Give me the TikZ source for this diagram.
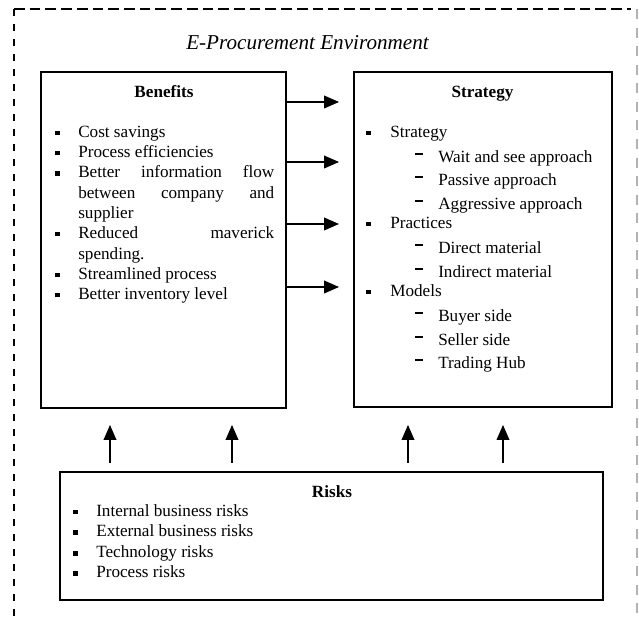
\documentclass[tikz,border=0pt]{standalone}
\usepackage{fontspec}
\setmainfont{Liberation Serif}
\usetikzlibrary{arrows.meta}
\newcommand{\bsq}{\raisebox{1.6pt}{\rule{3pt}{3pt}}}
\newcommand{\bdash}{\raisebox{5.2pt}{\rule{5.6pt}{1.5pt}}}
\newcommand{\bitem}[1]{\makebox[16.1pt][l]{\bsq}#1}
\newcommand{\sitem}[1]{\makebox[16.8pt][l]{\bsq}#1}
\newcommand{\ditem}[1]{\makebox[16.1pt][l]{\bdash}#1}
\begin{document}
\begin{tikzpicture}[x=0.7pt,y=-0.7pt,
  box/.style={draw, line width=1.1pt, inner sep=0pt},
  txt/.style={anchor=mid west, inner sep=0pt, yshift=-2.1pt, font=\fontsize{12}{14}\selectfont},
  ttl/.style={anchor=mid, inner sep=0pt, yshift=-2.1pt, font=\fontsize{12}{14}\selectfont\bfseries},
  arr/.style={-{Triangle[length=10.5pt,width=9pt]}, line width=0.8pt}]
\useasboundingbox (0,0) rectangle (639,621);
% environment border
\draw[line width=1.4pt, dash pattern=on 7.5pt off 3.5pt] (14,9) -- (631,9);
\draw[line width=1.5pt, dash pattern=on 5pt off 5.5pt] (14,9) -- (14,621);
\draw[gray!60, line width=0.8pt, dash pattern=on 7pt off 6pt] (637,9) -- (637,621);
\node[anchor=mid, inner sep=0pt, yshift=-2.5pt, font=\fontsize{14.8}{17}\selectfont\itshape] (env) at (307.5,43) {E-Procurement Environment};
% boxes
\node[box, minimum width=171.5pt, minimum height=235.2pt] (ben) at (163.5,240) {};
\node[box, minimum width=180.6pt, minimum height=234.5pt] (str) at (483,239.5) {};
\node[box, minimum width=380.1pt, minimum height=89.6pt] (risk) at (331.5,536) {};
% Benefits
\node[ttl] (bt) at (164,91) {Benefits};
\node[txt] (b1) at (55,131) {\bitem{Cost savings}};
\node[txt] (b2) at (55,151.3) {\bitem{Process efficiencies}};
\node[txt] (b3) at (55,171.6) {\bitem{\makebox[137.2pt][s]{Better information flow}}};
\node[txt] (b4) at (78,191.9) {\makebox[137.2pt][s]{between company and}};
\node[txt] (b5) at (78,212.2) {supplier};
\node[txt] (b6) at (55,232.5) {\bitem{\makebox[137.2pt][s]{Reduced maverick}}};
\node[txt] (b7) at (78,252.8) {spending.};
\node[txt] (b8) at (55,273.1) {\bitem{Streamlined process}};
\node[txt] (b9) at (55,293.4) {\bitem{Better inventory level}};
% Strategy
\node[ttl] (st) at (482.5,91) {Strategy};
\node[txt] (s1) at (366,131) {\sitem{Strategy}};
\node[txt] (s2) at (415,156) {\ditem{Wait and see approach}};
\node[txt] (s3) at (415,179.5) {\ditem{Passive approach}};
\node[txt] (s4) at (415,203) {\ditem{Aggressive approach}};
\node[txt] (s5) at (366,222) {\sitem{Practices}};
\node[txt] (s6) at (415,247) {\ditem{Direct material}};
\node[txt] (s7) at (415,271.5) {\ditem{Indirect material}};
\node[txt] (s8) at (366,290) {\sitem{Models}};
\node[txt] (s9) at (415,315) {\ditem{Buyer side}};
\node[txt] (s10) at (415,339) {\ditem{Seller side}};
\node[txt] (s11) at (415,362) {\ditem{Trading Hub}};
% Risks
\node[ttl] (rt) at (332,491) {Risks};
\node[txt] (r1) at (73,510) {\bitem{Internal business risks}};
\node[txt] (r2) at (73,530.7) {\bitem{External business risks}};
\node[txt] (r3) at (73,551.7) {\bitem{Technology risks}};
\node[txt] (r4) at (73,571.7) {\bitem{Process risks}};
% horizontal arrows
\coordinate (h1) at (339,102);
\coordinate (h2) at (339,162);
\coordinate (h3) at (339,224);
\coordinate (h4) at (339,287);
\foreach \h in {h1,h2,h3,h4} \draw[arr] (ben.east |- \h) -- (\h);
% vertical arrows
\foreach \i/\x in {1/110,2/232,3/408,4/503} {
  \coordinate (us\i) at (\x,463);
  \coordinate (ut\i) at (\x,425);
  \draw[arr] (us\i) -- (ut\i);
}
\end{tikzpicture}
\end{document}
